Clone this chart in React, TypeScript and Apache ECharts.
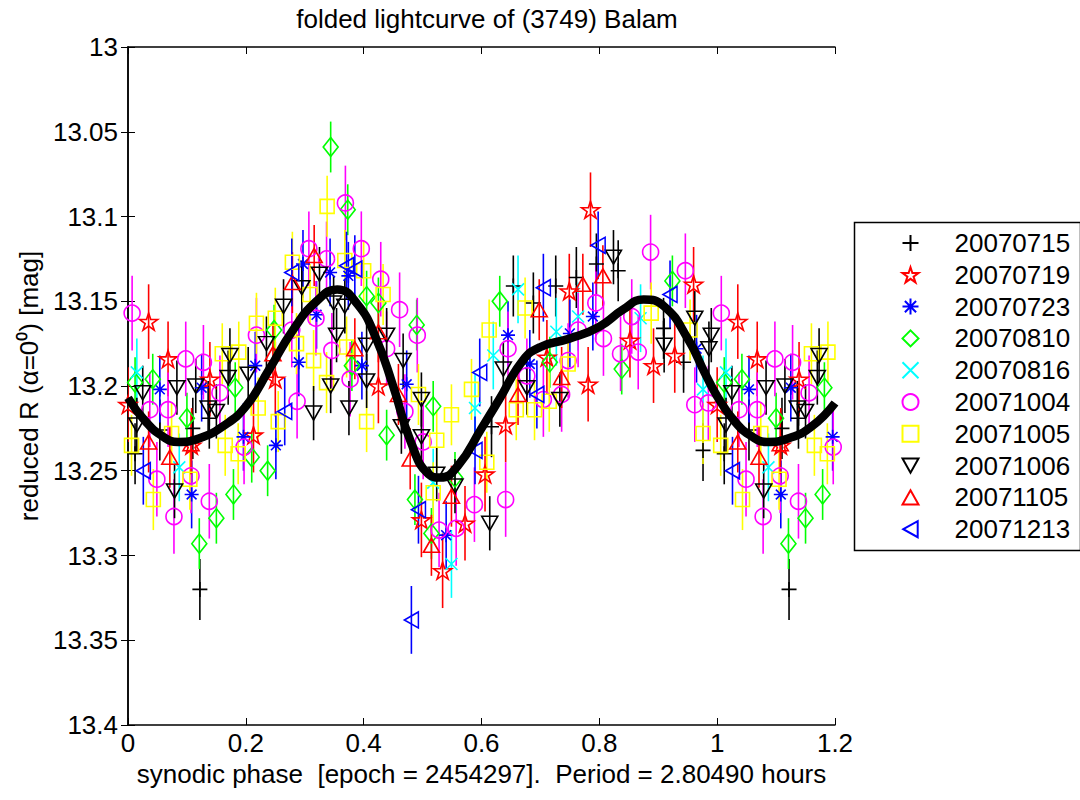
import React, { useEffect, useRef } from "react";
import * as echarts from "echarts";

const FONT = '"Liberation Sans", Arial, Helvetica, sans-serif';

// ---------- data ----------
const titleText = "folded lightcurve of (3749) Balam";
const xName = "synodic phase  [epoch = 2454297].  Period = 2.80490 hours";
const yName = "reduced R (α=0⁰) [mag]";

const xMin = 0;
const xMax = 1.2;
const xStep = 0.2;
const yMin = 13.0;
const yMax = 13.4;
const yStep = 0.05;

const seriesNames = [
  "20070715",
  "20070719",
  "20070723",
  "20070810",
  "20070816",
  "20071004",
  "20071005",
  "20071006",
  "20071105",
  "20071213",
];

// [phase, reduced R] for phase 0..1 (points with phase < 0.2 are repeated at phase + 1)
const s20070715: number[][] = [
  [0.012, 13.24], [0.054, 13.226], [0.11, 13.225], [0.122, 13.32], [0.138, 13.219],
  [0.617, 13.224], [0.654, 13.141], [0.688, 13.151], [0.726, 13.141], [0.761, 13.136],
  [0.795, 13.128], [0.832, 13.132], [0.909, 13.166], [0.943, 13.186], [0.976, 13.238],
];
const s20070719: number[][] = [
  [0.0, 13.211], [0.035, 13.162], [0.068, 13.184], [0.108, 13.235], [0.139, 13.196],
  [0.213, 13.229], [0.25, 13.196], [0.425, 13.2], [0.498, 13.279], [0.534, 13.309],
  [0.572, 13.281], [0.606, 13.252], [0.641, 13.223], [0.711, 13.183], [0.749, 13.144],
  [0.781, 13.199], [0.785, 13.096], [0.852, 13.173], [0.892, 13.188], [0.928, 13.182],
  [0.96, 13.14],
];
const s20070723: number[][] = [
  [0.054, 13.202], [0.108, 13.264], [0.125, 13.201], [0.196, 13.23], [0.216, 13.188],
  [0.251, 13.235], [0.29, 13.186], [0.297, 13.128], [0.32, 13.158], [0.343, 13.133],
  [0.374, 13.135], [0.397, 13.188], [0.473, 13.199], [0.54, 13.288], [0.645, 13.17],
  [0.682, 13.187], [0.75, 13.169], [0.789, 13.159], [0.965, 13.178],
];
const s20070810: number[][] = [
  [0.012, 13.198], [0.042, 13.196], [0.1, 13.219], [0.121, 13.293], [0.15, 13.278],
  [0.179, 13.264], [0.182, 13.201], [0.21, 13.242], [0.237, 13.25], [0.248, 13.167],
  [0.344, 13.059], [0.373, 13.096], [0.38, 13.188], [0.405, 13.147], [0.425, 13.151],
  [0.439, 13.229], [0.487, 13.267], [0.49, 13.164], [0.515, 13.287], [0.518, 13.212],
  [0.555, 13.254], [0.631, 13.15], [0.716, 13.186], [0.838, 13.19], [0.924, 13.138],
];
const s20070816: number[][] = [
  [0.015, 13.192], [0.087, 13.248], [0.518, 13.257], [0.549, 13.305], [0.589, 13.213],
  [0.62, 13.182], [0.662, 13.143], [0.727, 13.168], [0.764, 13.159], [0.87, 13.16],
  [0.976, 13.202],
];
const s20071004: number[][] = [
  [0.007, 13.157], [0.037, 13.214], [0.049, 13.255], [0.068, 13.214], [0.078, 13.277],
  [0.098, 13.184], [0.107, 13.253], [0.128, 13.186], [0.138, 13.268], [0.156, 13.204],
  [0.197, 13.236], [0.218, 13.17], [0.278, 13.167], [0.287, 13.209], [0.307, 13.119],
  [0.319, 13.16], [0.337, 13.125], [0.346, 13.179], [0.369, 13.092], [0.377, 13.196],
  [0.396, 13.119], [0.429, 13.137], [0.439, 13.178], [0.461, 13.155], [0.47, 13.215],
  [0.491, 13.17], [0.501, 13.233], [0.528, 13.285], [0.557, 13.284], [0.588, 13.27],
  [0.641, 13.267], [0.645, 13.178], [0.677, 13.194], [0.705, 13.208], [0.736, 13.205],
  [0.747, 13.185], [0.764, 13.167], [0.794, 13.151], [0.807, 13.172], [0.836, 13.181],
  [0.855, 13.159], [0.866, 13.18], [0.887, 13.121], [0.946, 13.132], [0.962, 13.211],
  [0.985, 13.21],
];
const s20071005: number[][] = [
  [0.006, 13.235], [0.043, 13.267], [0.074, 13.228], [0.105, 13.255], [0.16, 13.181],
  [0.165, 13.235], [0.187, 13.24], [0.188, 13.18], [0.218, 13.163], [0.221, 13.213],
  [0.25, 13.16], [0.255, 13.221], [0.279, 13.127], [0.286, 13.175], [0.309, 13.146],
  [0.315, 13.185], [0.337, 13.198], [0.338, 13.094], [0.368, 13.126], [0.371, 13.177],
  [0.4, 13.132], [0.405, 13.221], [0.433, 13.146], [0.493, 13.205], [0.518, 13.263],
  [0.524, 13.232], [0.549, 13.217], [0.583, 13.202], [0.609, 13.245], [0.613, 13.167],
  [0.659, 13.214], [0.674, 13.154], [0.69, 13.214], [0.715, 13.209], [0.747, 13.187],
  [0.888, 13.157], [0.954, 13.167], [0.976, 13.228],
];
const s20071006: number[][] = [
  [0.015, 13.223], [0.025, 13.204], [0.079, 13.262], [0.083, 13.201], [0.115, 13.2],
  [0.136, 13.213], [0.15, 13.215], [0.17, 13.195], [0.173, 13.182], [0.204, 13.193],
  [0.235, 13.175], [0.264, 13.153], [0.295, 13.142], [0.315, 13.216], [0.325, 13.134],
  [0.344, 13.2], [0.349, 13.151], [0.354, 13.17], [0.368, 13.153], [0.375, 13.213],
  [0.405, 13.176], [0.405, 13.197], [0.439, 13.17], [0.464, 13.224], [0.467, 13.185],
  [0.498, 13.208], [0.498, 13.23], [0.524, 13.252], [0.555, 13.259], [0.614, 13.281],
  [0.637, 13.19], [0.677, 13.201], [0.733, 13.208], [0.824, 13.124], [0.91, 13.176],
  [0.962, 13.16], [0.986, 13.178], [0.99, 13.17],
];
const s20071105: number[][] = [
  [0.035, 13.233], [0.071, 13.242], [0.107, 13.234], [0.246, 13.181], [0.279, 13.139],
  [0.316, 13.123], [0.385, 13.178], [0.425, 13.168], [0.459, 13.205], [0.479, 13.243],
  [0.515, 13.294], [0.549, 13.265], [0.662, 13.205], [0.698, 13.155], [0.736, 13.195],
  [0.772, 13.14], [0.806, 13.135],
];
const s20071213: number[][] = [
  [0.026, 13.25], [0.266, 13.215], [0.278, 13.133], [0.371, 13.129], [0.385, 13.131],
  [0.481, 13.338], [0.493, 13.273], [0.589, 13.238], [0.597, 13.192], [0.694, 13.205],
  [0.705, 13.142], [0.798, 13.117], [0.92, 13.146],
];

// half-length of the error bars, one per night
const errorSizes = [0.018, 0.022, 0.02, 0.015, 0.02, 0.022, 0.018, 0.016, 0.018, 0.02];

// Fourier fit curve
const fitPhase = [
  0, 0.03, 0.06, 0.085, 0.12, 0.16, 0.2, 0.24, 0.28, 0.32, 0.355, 0.39, 0.42, 0.45, 0.48,
  0.51, 0.53, 0.56, 0.6, 0.63, 0.67, 0.7, 0.75, 0.8, 0.84, 0.875, 0.91, 0.95, 0.98, 1.0,
  1.03, 1.06, 1.085, 1.12, 1.16, 1.2,
];
const fitMag = [
  13.207, 13.221, 13.23, 13.233, 13.231, 13.224, 13.212, 13.19, 13.167, 13.15, 13.143,
  13.152, 13.171, 13.2, 13.233, 13.252, 13.254, 13.247, 13.225, 13.208, 13.185, 13.177,
  13.172, 13.165, 13.155, 13.149, 13.153, 13.172, 13.193, 13.206, 13.221, 13.23, 13.233,
  13.231, 13.224, 13.21,
];

const allSeriesData = [
  s20070715, s20070719, s20070723, s20070810, s20070816,
  s20071004, s20071005, s20071006, s20071105, s20071213,
];

// ---------- styles ----------
const colors = [
  "#000000", "#ff0000", "#0000ff", "#00ff00", "#00ffff",
  "#ff00ff", "#ffff00", "#000000", "#ff0000", "#0000ff",
];
const symbols = [
  "path://M0,5L10,5M5,0L5,10",
  "path://M10,0L12.245,6.91L19.51,6.91L13.63,11.18L15.88,18.09L10,13.82L4.12,18.09L6.37,11.18L0.49,6.91L7.755,6.91Z",
  "path://M0,5L10,5M5,0L5,10M1.5,1.5L8.5,8.5M8.5,1.5L1.5,8.5",
  "diamond",
  "path://M0,0L10,10M10,0L0,10",
  "circle",
  "rect",
  "path://M0,0L10,0L5,9Z",
  "path://M5,0L10,9L0,9Z",
  "path://M0,5L9,0L9,10Z",
];
const symbolSizes: any[] = [
  [15, 15], [18, 17], [14, 14], [15, 19], [12, 12],
  [16, 16], [14, 14], [16, 14], [16, 14], [14, 16],
];

function wrapPhase(pts: number[][]) {
  return pts.concat(
    pts.filter((p) => p[0] < xMax - 1).map((p) => [p[0] + 1, p[1]])
  );
}

export default function App() {
  const ref = useRef<HTMLDivElement>(null);
  useEffect(() => {
    if (!ref.current) return;
    const chart = echarts.init(ref.current, undefined, { renderer: "svg" });
    const series: any[] = [];
    allSeriesData.forEach((pts, i) => {
      const data = wrapPhase(pts);
      const color = colors[i];
      const err = errorSizes[i];
      series.push({
        type: "custom",
        name: seriesNames[i] + "-err",
        silent: true,
        clip: true,
        data: data.map((p) => [p[0], p[1], err]),
        encode: { x: 0, y: 1 },
        renderItem: (params: any, api: any) => {
          const x = api.value(0);
          const y = api.value(1);
          const e = api.value(2);
          const p1 = api.coord([x, y - e]);
          const p2 = api.coord([x, y + e]);
          return {
            type: "line",
            shape: { x1: p1[0], y1: p1[1], x2: p2[0], y2: p2[1] },
            style: { stroke: color, lineWidth: 1.6 },
          };
        },
      });
      series.push({
        type: "scatter",
        name: seriesNames[i],
        data,
        symbol: symbols[i],
        symbolSize: symbolSizes[i],
        itemStyle: { color: "none", borderColor: color, borderWidth: 1.6, opacity: 1 },
        emphasis: { disabled: true },
        silent: true,
      });
    });
    series.push({
      type: "line",
      name: "fit",
      data: fitPhase.map((p, i) => [p, fitMag[i]]),
      smooth: true,
      showSymbol: false,
      symbol: "none",
      lineStyle: { color: "#000", width: 8.5 },
      silent: true,
      z: 5,
    });

    const axisText = { fontSize: 26, color: "#000", fontFamily: FONT };
    chart.setOption({
      animation: false,
      backgroundColor: "#fff",
      title: {
        text: titleText,
        left: 482,
        top: 1,
        textAlign: "center",
        textStyle: { fontSize: 26, fontWeight: "normal", color: "#000", fontFamily: FONT },
      },
      grid: { left: 128, right: 245, top: 47, bottom: 75, containLabel: false },
      legend: {
        orient: "vertical",
        left: 900,
        top: 230,
        padding: 0,
        itemWidth: 16,
        itemHeight: 16,
        itemGap: 5.8,
        selectedMode: false,
        data: seriesNames,
        textStyle: {
          fontSize: 26,
          lineHeight: 16,
          color: "#000",
          fontFamily: FONT,
          padding: [0, 0, 0, 31],
        },
      },
      graphic: [
        {
          type: "rect",
          left: 852,
          top: 220,
          shape: { width: 226, height: 328 },
          style: { fill: "none", stroke: "#000", lineWidth: 1.5 },
          silent: true,
        },
      ],
      xAxis: [
        {
          type: "value",
          position: "bottom",
          min: xMin,
          max: xMax,
          interval: xStep,
          name: xName,
          nameLocation: "middle",
          nameGap: 35,
          nameTextStyle: axisText,
          axisLine: { show: true, lineStyle: { color: "#000", width: 1.5 } },
          axisTick: { show: true, inside: true, length: 7, lineStyle: { color: "#000", width: 1 } },
          axisLabel: { ...axisText, margin: 5, formatter: (v: number) => String(Number(v.toFixed(2))) },
          splitLine: { show: false },
        },
        {
          type: "value",
          position: "top",
          min: xMin,
          max: xMax,
          interval: xStep,
          axisLine: { show: true, lineStyle: { color: "#000", width: 1.5 } },
          axisTick: { show: true, inside: true, length: 7, lineStyle: { color: "#000", width: 1 } },
          axisLabel: { show: false },
          splitLine: { show: false },
        },
      ],
      yAxis: [
        {
          type: "value",
          position: "left",
          inverse: true,
          min: yMin,
          max: yMax,
          interval: yStep,
          name: yName,
          nameLocation: "middle",
          nameGap: 86,
          nameRotate: 90,
          nameTextStyle: axisText,
          axisLine: { show: true, lineStyle: { color: "#000", width: 1.5 } },
          axisTick: { show: true, inside: true, length: 7, lineStyle: { color: "#000", width: 1 } },
          axisLabel: { ...axisText, margin: 10, formatter: (v: number) => String(Number(v.toFixed(2))) },
          splitLine: { show: false },
        },
        {
          type: "value",
          position: "right",
          inverse: true,
          min: yMin,
          max: yMax,
          interval: yStep,
          axisLine: { show: true, lineStyle: { color: "#000", width: 1.5 } },
          axisTick: { show: true, inside: true, length: 7, lineStyle: { color: "#000", width: 1 } },
          axisLabel: { show: false },
          splitLine: { show: false },
        },
      ],
      series,
    });
    return () => chart.dispose();
  }, []);
  return (
    <div
      ref={ref}
      style={{ position: "absolute", left: 0, top: 0, width: 1080, height: 800, background: "#fff" }}
    />
  );
}
